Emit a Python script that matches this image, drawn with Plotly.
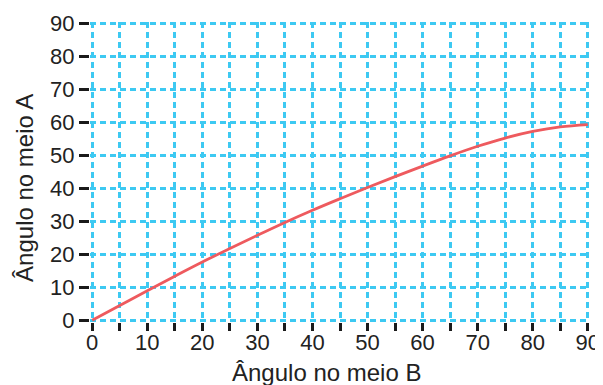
import plotly.graph_objects as go

# Data
angle_b = [0, 5, 10, 15, 20, 25, 30, 35, 40, 45, 50, 55, 60, 65, 70, 75, 80, 85, 90]
angle_a = [0, 4.5, 9.0, 13.4, 17.7, 21.8, 25.8, 29.7, 33.4, 36.9, 40.3, 43.6, 46.8, 49.9, 52.8, 55.3, 57.3, 58.7, 59.4]

x_major_ticks = list(range(0, 91, 10))
x_minor_ticks = list(range(5, 91, 10))
y_ticks = list(range(0, 91, 10))

x_title = "Ângulo no meio B"
y_title = "Ângulo no meio A"

grid_color = "#3DC9F2"
tick_color = "#1a1a1a"
font_family = "Liberation Sans, Arial, sans-serif"
grid_dash = "6px,4px"

fig = go.Figure()
fig.add_trace(go.Scatter(
    x=angle_b, y=angle_a, mode="lines",
    line=dict(color="#EE5A5E", width=2.8, shape="spline"),
    hoverinfo="skip",
))

# The page body adds an 8px offset, so the figure is 595x377
fig.update_layout(
    width=595, height=377,
    margin=dict(l=82, r=13, t=14, b=63),
    paper_bgcolor="white", plot_bgcolor="white",
    showlegend=False,
    font=dict(family=font_family, size=22, color="#222222"),
)
fig.update_xaxes(
    range=[-0.4, 90.4], tickmode="array", tickvals=x_major_ticks,
    ticks="outside", ticklen=8, tickwidth=3, tickcolor=tick_color,
    ticklabelstandoff=-7,
    showgrid=True, gridcolor=grid_color, gridwidth=2.5, griddash=grid_dash,
    minor=dict(tickmode="array", tickvals=x_minor_ticks, ticks="outside",
               ticklen=8, tickwidth=3, tickcolor=tick_color,
               showgrid=True, gridcolor=grid_color, gridwidth=2.5, griddash=grid_dash),
    zeroline=False, showline=False, automargin=False,
    tickfont=dict(size=22),
)
fig.update_yaxes(
    range=[-0.5, 90.5], tickmode="array", tickvals=y_ticks,
    ticks="outside", ticklen=10, tickwidth=3, tickcolor=tick_color,
    showgrid=True, gridcolor=grid_color, gridwidth=2.5, griddash=grid_dash,
    zeroline=False, showline=False, automargin=False,
    tickfont=dict(size=22),
)

fig.add_annotation(
    text=x_title, xref="paper", yref="paper", x=0.472, y=-0.167,
    xanchor="center", yanchor="middle", showarrow=False,
    font=dict(size=24, family=font_family, color="#222222"),
)
fig.add_annotation(
    text=y_title, xref="paper", yref="paper", x=-0.13, y=0.447,
    xanchor="center", yanchor="middle", showarrow=False, textangle=-90,
    font=dict(size=24, family=font_family, color="#222222"),
)

fig.write_html("out.html")
